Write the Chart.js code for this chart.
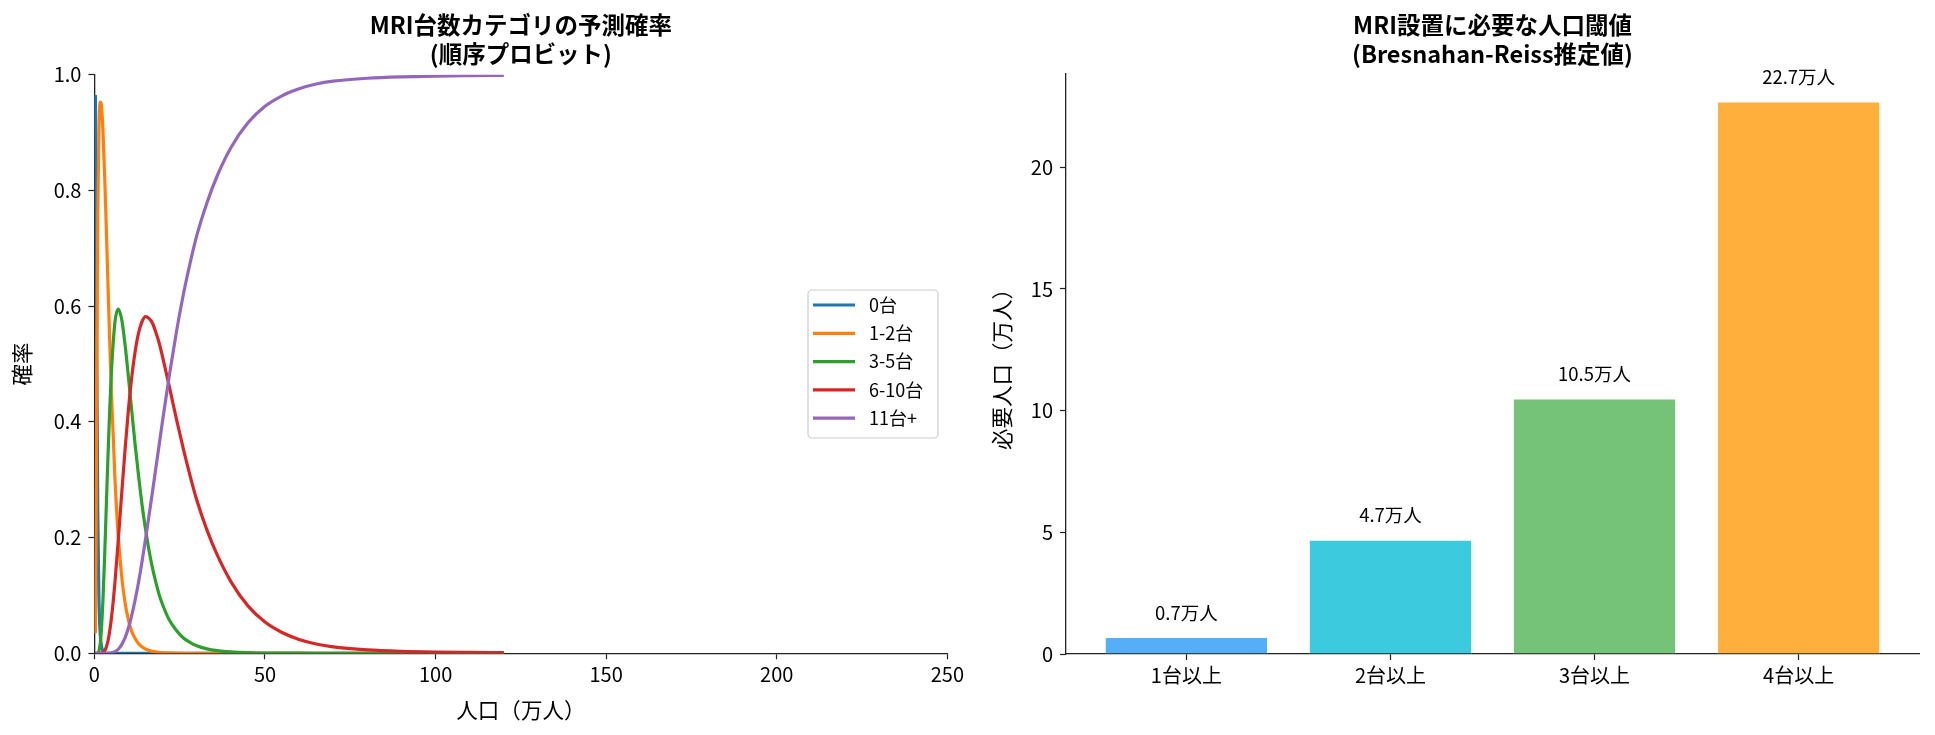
<!DOCTYPE html>
<html>
<head>
<meta charset="utf-8">
<script src="https://cdn.jsdelivr.net/npm/chart.js@4.4.0/dist/chart.umd.min.js"></script>
<style>
    html, body { margin: 0; padding: 0; background: #fff; }
    #wrap { position: relative; width: 1935px; height: 735px; }
    .box { position: absolute; top: 0; height: 735px; }
    #leftBox { left: 0; width: 967px; }
    #rightBox { left: 967px; width: 968px; }
</style>
</head>
<body>
<div id="wrap">
    <div class="box" id="leftBox"><canvas id="probChart" width="967" height="735"></canvas></div>
    <div class="box" id="rightBox"><canvas id="thresholdChart" width="968" height="735"></canvas></div>
</div>
<script>
    // Left panel: predicted probability per MRI count category
    const popGrid = [0.3, 0.5, 0.7, 1, 1.3, 1.7, 2, 2.5, 3, 3.5, 4, 4.5, 5, 6, 7, 8, 9, 10, 11, 12, 13, 14, 15, 16, 17, 18, 19, 20,
        22, 24, 26, 28, 30, 33, 36, 40, 45, 50, 55, 60, 65, 70, 80, 90, 100, 110, 120];
    const probCat0 = [0.965, 0.770, 0.513, 0.236, 0.102, 0.033, 0.015, 0.004, 0.001, 0, 0, 0, 0, 0, 0, 0, 0, 0, 0, 0, 0, 0, 0, 0, 0, 0, 0, 0,
        0, 0, 0, 0, 0, 0, 0, 0, 0, 0, 0, 0, 0, 0, 0, 0, 0, 0, 0];
    const probCat1 = [0.035, 0.230, 0.487, 0.763, 0.895, 0.953, 0.950, 0.904, 0.827, 0.733, 0.634, 0.538, 0.450, 0.305, 0.202, 0.133, 0.087, 0.057, 0.037, 0.025, 0.016, 0.011, 0.0075, 0.005, 0.0035, 0.0024, 0.0017, 0.0012,
        0.0006, 0.0003, 0.0001, 0, 0, 0, 0, 0, 0, 0, 0, 0, 0, 0, 0, 0, 0, 0, 0];
    const probCat2 = [0, 0, 0.0001, 0.0006, 0.0034, 0.016, 0.036, 0.091, 0.168, 0.256, 0.344, 0.423, 0.488, 0.571, 0.595, 0.577, 0.533, 0.476, 0.416, 0.357, 0.304, 0.255, 0.214, 0.178, 0.148, 0.123, 0.101, 0.084,
        0.057, 0.040, 0.027, 0.019, 0.013, 0.0076, 0.0045, 0.0023, 0.001, 0.0005, 0.0003, 0.0002, 0.0001, 0, 0, 0, 0, 0, 0];
    const probCat3 = [0, 0, 0, 0, 0, 0.0001, 0.0003, 0.0014, 0.0045, 0.011, 0.022, 0.039, 0.061, 0.121, 0.196, 0.276, 0.353, 0.423, 0.480, 0.524, 0.555, 0.574, 0.582, 0.579, 0.571, 0.555, 0.536, 0.512,
        0.460, 0.406, 0.355, 0.308, 0.265, 0.213, 0.170, 0.124, 0.082, 0.054, 0.036, 0.024, 0.016, 0.011, 0.006, 0.0035, 0.0022, 0.0015, 0.001];
    const probCat4 = [0, 0, 0, 0, 0, 0, 0, 0, 0, 0, 0.0001, 0.0003, 0.0008, 0.003, 0.007, 0.015, 0.027, 0.0445, 0.067, 0.094, 0.125, 0.160, 0.198, 0.238, 0.278, 0.320, 0.361, 0.403,
        0.482, 0.554, 0.618, 0.673, 0.722, 0.779, 0.8255, 0.874, 0.917, 0.9455, 0.9637, 0.9758, 0.984, 0.989, 0.994, 0.9965, 0.9978, 0.9985, 0.999];
    const categoryNames = ['0台', '1-2台', '3-5台', '6-10台', '11台+'];
    const lineColors = ['#1f77b4', '#ff7f0e', '#2ca02c', '#d62728', '#9467bd'];

    // Right panel: population thresholds (万人)
    const thresholdLabels = ['1台以上', '2台以上', '3台以上', '4台以上'];
    const thresholdValues = [0.7, 4.7, 10.5, 22.7];
    const barColors = ['#55aef6', '#3ccbde', '#75c279', '#ffb03c'];

    const FONT = '"Noto Sans CJK JP", "Noto Sans", sans-serif';
    const AXIS_COLOR = '#222';

    // two-line bold title over the plot area
    const titlePlugin = {
        id: 'panelTitle',
        afterDraw(chart, args, opts) {
            const { ctx, chartArea } = chart;
            ctx.save();
            ctx.font = `bold 23.5px ${FONT}`;
            ctx.fillStyle = '#000';
            ctx.textAlign = 'center';
            ctx.textBaseline = 'middle';
            const cx = (chartArea.left + chartArea.right) / 2;
            opts.lines.forEach((t, i) => ctx.fillText(t, cx, 25 + i * 29.5));
            ctx.restore();
        }
    };

    // matplotlib-like legend box inside the axes
    const boxLegend = {
        id: 'boxLegend',
        afterDraw(chart) {
            const { ctx } = chart;
            const x = 808, y = 290, w = 130, h = 148;
            ctx.save();
            ctx.fillStyle = 'rgba(255,255,255,0.8)';
            ctx.strokeStyle = '#cccccc';
            ctx.lineWidth = 1.2;
            ctx.beginPath();
            ctx.roundRect(x, y, w, h, 4);
            ctx.fill();
            ctx.stroke();
            ctx.font = `18px ${FONT}`;
            ctx.textBaseline = 'middle';
            ctx.fillStyle = '#000';
            chart.data.datasets.forEach((ds, i) => {
                const ry = y + 15 + i * 28.3;
                ctx.strokeStyle = ds.borderColor;
                ctx.lineWidth = 3.2;
                ctx.beginPath();
                ctx.moveTo(x + 5, ry);
                ctx.lineTo(x + 47, ry);
                ctx.stroke();
                ctx.fillText(ds.label, x + 61, ry);
            });
            ctx.restore();
        }
    };

    // "x.x万人" labels above bars
    const barValueLabels = {
        id: 'barValueLabels',
        afterDatasetsDraw(chart) {
            const { ctx, scales } = chart;
            const meta = chart.getDatasetMeta(0);
            ctx.save();
            ctx.font = `18.5px ${FONT}`;
            ctx.fillStyle = '#000';
            ctx.textAlign = 'center';
            ctx.textBaseline = 'bottom';
            meta.data.forEach((bar, i) => {
                const v = thresholdValues[i];
                ctx.fillText(`${v.toFixed(1)}万人`, bar.x, scales.y.getPixelForValue(v + 0.5) - 3);
            });
            ctx.restore();
        }
    };

    const gridOpts = { display: true, offset: false, drawOnChartArea: false, drawTicks: true, tickLength: 6, color: AXIS_COLOR, tickWidth: 1.2 };
    const borderOpts = { display: true, color: AXIS_COLOR, width: 1.3 };

    new Chart(document.getElementById('probChart'), {
        type: 'line',
        data: {
            datasets: [probCat0, probCat1, probCat2, probCat3, probCat4].map((arr, i) => ({
                label: categoryNames[i],
                data: popGrid.map((x, j) => ({ x, y: arr[j] })),
                borderColor: lineColors[i],
                backgroundColor: lineColors[i],
                borderWidth: 3.2,
                pointRadius: 0,
                fill: false,
                cubicInterpolationMode: 'monotone',
                order: 4 - i
            }))
        },
        options: {
            responsive: false,
            animation: false,
            events: [],
            layout: { padding: { left: 0, right: 19, top: 74.8, bottom: 0 } },
            plugins: {
                legend: { display: false },
                tooltip: { enabled: false },
                panelTitle: { lines: ['MRI台数カテゴリの予測確率', '(順序プロビット)'] }
            },
            scales: {
                x: {
                    type: 'linear', min: 0, max: 250,
                    grid: gridOpts, border: borderOpts,
                    ticks: { stepSize: 50, color: '#000', font: { family: FONT, size: 20 }, padding: 3, maxRotation: 0 },
                    title: { display: true, text: '人口（万人）', color: '#000', font: { family: FONT, size: 21.5 }, padding: { top: 0, bottom: 12 } },
                    afterFit: s => { s.height = 735 - 653.3; }
                },
                y: {
                    min: 0, max: 1,
                    grid: gridOpts, border: borderOpts,
                    ticks: { stepSize: 0.2, color: '#000', font: { family: FONT, size: 20 }, padding: 7, callback: v => v.toFixed(1) },
                    title: { display: true, text: '確率', color: '#000', font: { family: FONT, size: 21.5 }, padding: { top: 9, bottom: 0 } },
                    afterFit: s => { s.width = 94.4; }
                }
            }
        },
        plugins: [titlePlugin, boxLegend]
    });

    new Chart(document.getElementById('thresholdChart'), {
        type: 'bar',
        data: {
            datasets: [{
                label: '必要人口',
                data: thresholdValues.map((v, i) => ({ x: i, y: v })),
                backgroundColor: barColors,
                borderColor: 'rgba(255,255,255,0.6)',
                borderWidth: 1,
                barPercentage: 0.8,
                categoryPercentage: 1.0
            }]
        },
        options: {
            responsive: false,
            animation: false,
            events: [],
            layout: { padding: { left: 0, right: 16, top: 74, bottom: 0 } },
            plugins: {
                legend: { display: false },
                tooltip: { enabled: false },
                panelTitle: { lines: ['MRI設置に必要な人口閾値', '(Bresnahan-Reiss推定値)'] }
            },
            scales: {
                x: {
                    type: 'linear', min: -0.59, max: 3.59, offset: false,
                    grid: gridOpts, border: borderOpts,
                    afterBuildTicks: axis => { axis.ticks = thresholdLabels.map((_, i) => ({ value: i })); },
                    ticks: { color: '#000', font: { family: FONT, size: 20 }, padding: 3, maxRotation: 0, callback: v => thresholdLabels[v] },
                    afterFit: s => { s.height = 735 - 654; }
                },
                y: {
                    min: 0, max: 23.835,
                    grid: gridOpts, border: borderOpts,
                    ticks: { stepSize: 5, includeBounds: false, color: '#000', font: { family: FONT, size: 20 }, padding: 7 },
                    title: { display: true, text: '必要人口（万人）', color: '#000', font: { family: FONT, size: 21.5 }, padding: { top: 22, bottom: 0 } },
                    afterFit: s => { s.width = 99; }
                }
            }
        },
        plugins: [titlePlugin, barValueLabels]
    });
</script>
</body>
</html>
